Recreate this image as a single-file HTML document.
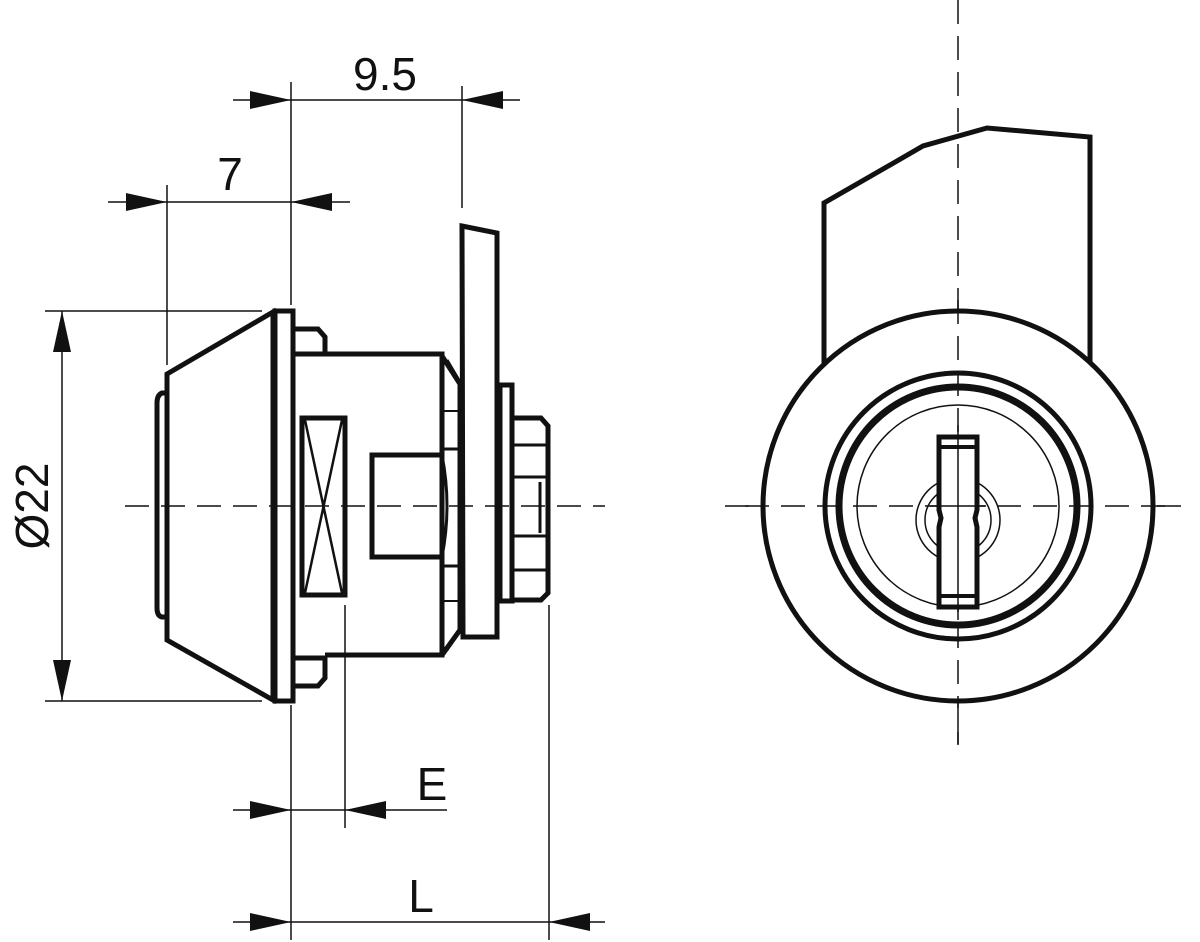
<!DOCTYPE html>
<html><head><meta charset="utf-8"><style>html,body{margin:0;padding:0;background:#fff}svg{display:block}</style></head>
<body>
<svg width="1200" height="942" viewBox="0 0 1200 942" xmlns="http://www.w3.org/2000/svg" font-family="Liberation Sans, sans-serif">
<g stroke="#111" fill="none">
<g stroke-width="1.5" stroke-dasharray="24,12">
<line x1="125" y1="506" x2="605" y2="506"/>
<line x1="725" y1="506" x2="1190" y2="506"/>
<line x1="958" y1="0" x2="958" y2="745"/>
</g>
<g stroke-width="1.5">
<line x1="45" y1="311" x2="262" y2="311"/>
<line x1="45" y1="701" x2="262" y2="701"/>
<line x1="167" y1="185" x2="167" y2="365"/>
<line x1="291" y1="82" x2="291" y2="305"/>
<line x1="291" y1="705" x2="291" y2="940"/>
<line x1="462" y1="86" x2="462" y2="208"/>
<line x1="345" y1="605" x2="345" y2="828"/>
<line x1="549" y1="605" x2="549" y2="940"/>
<line x1="233" y1="100" x2="520" y2="100"/>
<line x1="108" y1="202" x2="350" y2="202"/>
<line x1="62" y1="311" x2="62" y2="701"/>
<line x1="233" y1="810" x2="447" y2="810"/>
<line x1="233" y1="922" x2="605" y2="922"/>
</g>
</g>
<g fill="#111">
<polygon points="291,100 250,91 250,109"/>
<polygon points="462,100 503,91 503,109"/>
<polygon points="167,202 126,193 126,211"/>
<polygon points="291,202 332,193 332,211"/>
<polygon points="62,311 53,352 71,352"/>
<polygon points="62,701 53,660 71,660"/>
<polygon points="291,810 250,801 250,819"/>
<polygon points="345,810 386,801 386,819"/>
<polygon points="291,922 250,913 250,931"/>
<polygon points="549,922 590,913 590,931"/>
</g>
<g fill="#111" font-size="46">
<text x="385" y="90" text-anchor="middle">9.5</text>
<text x="230" y="190" text-anchor="middle">7</text>
<text x="432" y="800" text-anchor="middle">E</text>
<text x="421" y="912" text-anchor="middle">L</text>
<text transform="translate(48,506) rotate(-90)" text-anchor="middle">Ø22</text>
</g>
<g stroke="#111" stroke-width="5" fill="none" stroke-linejoin="miter">
<path d="M167,374 L273,312 L273,700 L167,640 Z"/>
<path d="M167,393 L162,393 Q157,395 157,403 L157,608 Q157,616 162,617 L167,617"/>
<rect x="275" y="311" width="18" height="390"/>
<path d="M295,329 L318,329 L325,337 L325,354 L293,354"/>
<path d="M295,686 L318,686 L325,678 L325,658 L293,658"/>
<path d="M325,354 L442,354 L442,655 L325,655"/>
<path d="M442,356 L460,384 L460,630 L442,655"/>
<line x1="447" y1="360" x2="460" y2="382" stroke-width="3"/>
<line x1="447" y1="650" x2="460" y2="628" stroke-width="3"/>
<line x1="442" y1="411" x2="458" y2="411" stroke-width="2"/>
<line x1="442" y1="449" x2="458" y2="449" stroke-width="3"/>
<line x1="442" y1="566" x2="458" y2="566" stroke-width="3"/>
<line x1="442" y1="601" x2="458" y2="601" stroke-width="2"/>
<rect x="302" y="418" width="43" height="177"/>
<path d="M305,420 L342,593 M342,420 L305,593" stroke-width="2.5"/>
<path d="M442,455 L372,455 L372,557 L442,557"/>
<path d="M442,455 Q452,506 442,557" stroke-width="3"/>
<path d="M462,226 L497,233 L497,637 L463,637 Z"/>
<rect x="500" y="385" width="12" height="216"/>
<path d="M512,418 L541,418 L548,426 L548,593 L541,600 L512,600"/>
<line x1="512" y1="445" x2="546" y2="445" stroke-width="3"/>
<line x1="512" y1="477" x2="546" y2="477" stroke-width="3"/>
<line x1="512" y1="536" x2="546" y2="536" stroke-width="3"/>
<line x1="512" y1="570" x2="546" y2="570" stroke-width="3"/>
<line x1="540" y1="482" x2="540" y2="533" stroke-width="3"/>
</g>
<g stroke="#111" fill="none">
<path d="M824,365 L824,203 L923,146 L987,128 L1090,137 L1090,368" stroke-width="5"/>
<circle cx="958" cy="506" r="195" stroke-width="5" fill="#fff"/>
<line x1="958" y1="300" x2="958" y2="745" stroke-width="1.5" stroke-dasharray="24,12"/>
<circle cx="958" cy="506" r="133" stroke-width="5"/>
<circle cx="958" cy="506" r="119" stroke-width="7"/>
<circle cx="958" cy="506" r="101" stroke-width="1.5"/>
<circle cx="958" cy="520" r="42" stroke-width="1.5"/>
<circle cx="958" cy="520" r="33" stroke-width="1.5"/>
<line x1="745" y1="506" x2="1175" y2="506" stroke-width="1.5" stroke-dasharray="24,12"/>
<path d="M939,437 L977,437 L977,510 L975,518 L977,527 L977,607 L939,607 L939,527 L941,518 L939,510 Z" fill="#fff" stroke-width="5"/>
<line x1="941" y1="447" x2="975" y2="447" stroke-width="4"/>
<line x1="941" y1="596" x2="975" y2="596" stroke-width="4"/>
<line x1="958" y1="425" x2="958" y2="620" stroke-width="1.5"/>
<line x1="930" y1="506" x2="986" y2="506" stroke-width="1.5"/>
</g>
</svg>
</body></html>
